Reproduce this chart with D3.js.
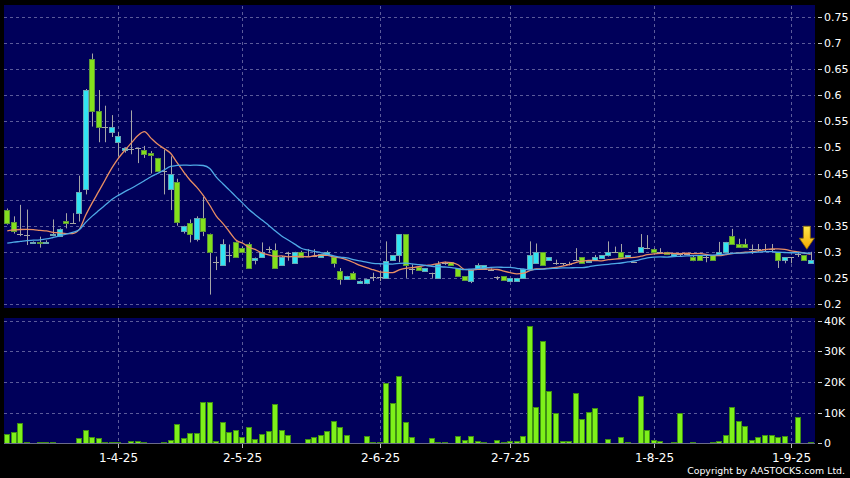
<!DOCTYPE html>
<html><head><meta charset="utf-8">
<script src="https://cdn.jsdelivr.net/npm/d3@7"></script>
<style>html,body{margin:0;padding:0;background:#000;}svg{display:block;}</style>
</head><body>
<svg id="chart" width="850" height="478"></svg>
<script>
// ---- data ----
const openP = [0.381,0.358,0.334,0.333,0.316,0.319,0.316,0.332,0.331,0.359,
0.356,0.374,0.42,0.67,0.57,0.54,0.53,0.51,0.495,0.497,
0.498,0.495,0.49,0.48,0.455,0.42,0.434,0.339,0.355,0.324,
0.365,0.334,0.28,0.275,0.294,0.318,0.308,0.315,0.284,0.29,
0.305,0.304,0.275,0.297,0.278,0.299,0.292,0.292,0.29,0.294,
0.291,0.264,0.248,0.259,0.24,0.24,0.252,0.252,0.25,0.285,
0.294,0.334,0.267,0.27,0.264,0.259,0.25,0.278,0.28,0.269,
0.253,0.245,0.267,0.267,0.266,0.252,0.253,0.245,0.245,0.25,
0.267,0.278,0.299,0.285,0.278,0.278,0.276,0.285,0.29,0.28,
0.285,0.289,0.293,0.30,0.299,0.29,0.28,0.299,0.308,0.305,
0.299,0.299,0.292,0.296,0.296,0.29,0.294,0.29,0.294,0.293,
0.299,0.331,0.315,0.315,0.305,0.305,0.305,0.305,0.299,0.285,
0.29,0.296,0.294,0.278];
const highP = [0.383,0.368,0.39,0.381,0.32,0.329,0.322,0.362,0.345,0.374,
0.374,0.446,0.612,0.68,0.61,0.58,0.562,0.53,0.50,0.571,
0.499,0.503,0.493,0.48,0.496,0.483,0.44,0.35,0.362,0.368,
0.405,0.335,0.291,0.324,0.314,0.32,0.31,0.318,0.289,0.318,
0.31,0.316,0.292,0.30,0.30,0.302,0.305,0.305,0.296,0.302,
0.291,0.269,0.254,0.262,0.245,0.248,0.26,0.26,0.32,0.294,
0.334,0.334,0.276,0.272,0.269,0.26,0.282,0.281,0.28,0.269,
0.253,0.266,0.278,0.274,0.268,0.253,0.253,0.249,0.25,0.267,
0.32,0.316,0.299,0.29,0.285,0.278,0.281,0.307,0.29,0.283,
0.294,0.293,0.32,0.31,0.315,0.294,0.28,0.334,0.332,0.307,
0.307,0.30,0.296,0.298,0.296,0.294,0.294,0.295,0.294,0.319,
0.319,0.344,0.325,0.325,0.314,0.315,0.315,0.315,0.299,0.29,
0.29,0.30,0.294,0.30];
const lowP = [0.352,0.335,0.33,0.313,0.315,0.308,0.315,0.33,0.33,0.345,
0.354,0.358,0.41,0.54,0.51,0.51,0.52,0.483,0.49,0.487,
0.47,0.48,0.45,0.455,0.41,0.38,0.35,0.335,0.318,0.32,
0.33,0.218,0.265,0.275,0.28,0.29,0.30,0.268,0.276,0.29,
0.298,0.268,0.275,0.283,0.278,0.291,0.29,0.29,0.29,0.294,
0.27,0.237,0.247,0.247,0.24,0.238,0.244,0.244,0.25,0.284,
0.28,0.25,0.257,0.264,0.264,0.25,0.25,0.275,0.275,0.253,
0.246,0.24,0.267,0.267,0.265,0.246,0.245,0.245,0.245,0.25,
0.267,0.278,0.275,0.285,0.275,0.274,0.274,0.282,0.278,0.28,
0.285,0.289,0.291,0.299,0.29,0.29,0.28,0.299,0.305,0.299,
0.297,0.296,0.292,0.292,0.296,0.282,0.285,0.28,0.285,0.293,
0.299,0.315,0.309,0.309,0.296,0.30,0.30,0.30,0.269,0.278,
0.278,0.29,0.285,0.278];
const closeP = [0.355,0.339,0.334,0.333,0.319,0.316,0.319,0.334,0.344,0.355,
0.356,0.414,0.61,0.57,0.54,0.54,0.54,0.522,0.498,0.497,
0.498,0.488,0.486,0.455,0.455,0.45,0.358,0.349,0.335,0.365,
0.339,0.30,0.28,0.315,0.294,0.291,0.30,0.269,0.289,0.30,
0.305,0.269,0.291,0.297,0.299,0.291,0.292,0.292,0.295,0.299,
0.278,0.248,0.253,0.248,0.244,0.248,0.252,0.252,0.283,0.294,
0.334,0.275,0.267,0.265,0.269,0.259,0.277,0.278,0.275,0.253,
0.246,0.266,0.274,0.274,0.266,0.252,0.246,0.249,0.25,0.267,
0.294,0.299,0.275,0.29,0.278,0.278,0.276,0.285,0.278,0.283,
0.29,0.293,0.299,0.30,0.29,0.294,0.28,0.309,0.308,0.299,
0.299,0.296,0.296,0.296,0.296,0.285,0.285,0.29,0.285,0.299,
0.319,0.315,0.309,0.309,0.305,0.305,0.305,0.305,0.285,0.29,
0.29,0.296,0.285,0.285];
const volume = [2900,3700,6500,500,0,300,300,300,0,0,
200,1600,4500,2100,1700,500,500,500,0,600,
600,500,0,0,300,1200,6400,1600,3400,3500,
13600,13500,800,6800,3600,4200,2200,5200,1300,2900,
4100,12700,4200,2600,0,200,1400,2000,2700,3900,
7200,5300,2800,200,0,2500,300,500,19800,13300,
22100,6800,2100,200,200,1700,300,300,0,2500,
1000,2400,900,300,0,1000,300,800,900,2400,
38400,12000,33400,17000,9800,900,700,16500,8000,10200,
11500,0,1300,100,2100,300,0,15500,4300,1000,
800,100,300,10000,0,400,0,200,300,800,
2700,11700,7300,5500,1100,2100,2800,2600,2100,2500,
100,8500,0,300];
// closes of the 19 sessions before the window (needed for the moving averages)
const priorCloses = [0.30,0.305,0.30,0.305,0.30,0.285,0.28,0.285,0.285,0.285,
0.32,0.325,0.33,0.325,0.33,0.33,0.36,0.355,0.37];
const maPeriods = [10, 20];
const priceTicks = [0.2,0.25,0.3,0.35,0.4,0.45,0.5,0.55,0.6,0.65,0.7,0.75];
const volumeTicks = [0,10000,20000,30000,40000];
const dateLabels = ["1-4-25","2-5-25","2-6-25","2-7-25","1-8-25","1-9-25"];
const dateIndex = [17,36,57,77,99,120];
const markerIndex = 122.4, markerPrice = 0.305;

// ---- layout ----
const W = 850, H = 478;
const L = 4, R = 815;
const pTop = 5, pBot = 308, vTop = 318, vBot = 444;
const n = closeP.length;
const svg = d3.select("#chart");
const font = "DejaVu Sans, Verdana, sans-serif";

svg.append("rect").attr("width", W).attr("height", H).attr("fill", "#000");

const xb = d3.scaleBand().domain(d3.range(n)).range([L, R - 1]).paddingInner(0.1);
const xl = d3.scaleLinear().domain([-0.5, n - 0.5]).range([L, R - 1]);
const yP = d3.scaleLinear().domain([0.2, 0.75]).range([304, 17]);
const yV = d3.scaleLinear().domain([0, 40000]).range([443.3, 320.7]);

const defs = svg.append("defs");
defs.append("clipPath").attr("id", "cp").append("rect").attr("x", L).attr("y", pTop).attr("width", R - L).attr("height", pBot - pTop);
defs.append("clipPath").attr("id", "cv").append("rect").attr("x", L).attr("y", vTop).attr("width", R - L).attr("height", vBot - vTop);
const grad = defs.append("linearGradient").attr("id", "ag").attr("x1", 0).attr("y1", 0).attr("x2", 0).attr("y2", 1);
grad.append("stop").attr("offset", "0").attr("stop-color", "#ffe84a");
grad.append("stop").attr("offset", "1").attr("stop-color", "#f5a800");

// panels
const panelFill = "#00005a";
svg.append("rect").attr("x", L).attr("y", pTop).attr("width", R - L).attr("height", pBot - pTop).attr("fill", panelFill);
svg.append("rect").attr("x", L).attr("y", vTop).attr("width", R - L).attr("height", vBot - vTop).attr("fill", panelFill);

const gridColor = "#5b5b9a";
const gp = svg.append("g").attr("clip-path", "url(#cp)");
const gv = svg.append("g").attr("clip-path", "url(#cv)");

// horizontal grid
gp.selectAll(".hg").data(priceTicks).join("line")
  .attr("x1", L).attr("x2", R).attr("y1", d => Math.round(yP(d)) + 0.5).attr("y2", d => Math.round(yP(d)) + 0.5)
  .attr("stroke", gridColor).attr("stroke-dasharray", "3,3");
gv.selectAll(".hg").data(volumeTicks.slice(1)).join("line")
  .attr("x1", L).attr("x2", R).attr("y1", d => Math.round(yV(d)) + 0.5).attr("y2", d => Math.round(yV(d)) + 0.5)
  .attr("stroke", gridColor).attr("stroke-dasharray", "3,3");
// vertical grid
[gp, gv].forEach(g => g.selectAll(".vg").data(dateIndex).join("line")
  .attr("x1", d => Math.round(xl(d)) + 0.5).attr("x2", d => Math.round(xl(d)) + 0.5)
  .attr("y1", 0).attr("y2", H)
  .attr("stroke", gridColor).attr("stroke-dasharray", "3,3"));

// candles
const upFill = "#31e4f2", upStroke = "#6aa6b4";
const dnFill = "#84e01c", dnStroke = "#5d9a36";
const wickColor = "#a6a6a6";
const bw = Math.round(xb.bandwidth());
const cx = i => Math.round(xl(i)) + 0.5;
const candles = gp.append("g");
d3.range(n).forEach(i => {
  const o = openP[i], c = closeP[i];
  candles.append("line").attr("x1", cx(i)).attr("x2", cx(i))
    .attr("y1", yP(highP[i])).attr("y2", yP(lowP[i])).attr("stroke", wickColor).attr("stroke-width", 1);
  const left = Math.round(xl(i) - bw / 2) + 0.5;
  if (o === c) {
    candles.append("line").attr("x1", left - 0.5).attr("x2", left + bw - 0.5)
      .attr("y1", Math.round(yP(c)) + 0.5).attr("y2", Math.round(yP(c)) + 0.5).attr("stroke", wickColor);
  } else {
    const up = c > o;
    const t = Math.round(yP(Math.max(o, c))), b = Math.round(yP(Math.min(o, c)));
    candles.append("rect").attr("x", left).attr("y", t + 0.5)
      .attr("width", bw - 1).attr("height", Math.max(1, b - t))
      .attr("fill", up ? upFill : dnFill).attr("stroke", up ? upStroke : dnStroke).attr("stroke-width", 1);
  }
});

// moving averages
const allCloses = priorCloses.concat(closeP);
const off = priorCloses.length;
const maColors = ["#e98e63", "#4fa9e6"];
maPeriods.forEach((p, k) => {
  const vals = d3.range(n).map(i => d3.mean(allCloses.slice(off + i - p + 1, off + i + 1)));
  gp.append("path").datum(vals)
    .attr("d", d3.line().x((d, i) => xl(i)).y(d => yP(d)).curve(d3.curveMonotoneX))
    .attr("fill", "none").attr("stroke", maColors[k]).attr("stroke-width", 1.3);
});

// marker arrow
const ax = xl(markerIndex), ay = yP(markerPrice);
svg.append("path")
  .attr("d", `M${ax},${ay} L${ax - 7.5},${ay - 11} L${ax - 3.5},${ay - 11} L${ax - 3.5},${ay - 23} L${ax + 3.5},${ay - 23} L${ax + 3.5},${ay - 11} L${ax + 7.5},${ay - 11} Z`)
  .attr("fill", "url(#ag)").attr("stroke", "#8a6a00").attr("stroke-width", 0.8);

// volume bars
gv.selectAll(".vb").data(volume).join("rect")
  .attr("x", (d, i) => Math.round(xl(i) - bw / 2) + 0.5)
  .attr("y", d => Math.round(yV(d)) + 0.5)
  .attr("width", bw - 1)
  .attr("height", d => Math.max(0, Math.round(yV(0)) - Math.round(yV(d))))
  .attr("fill", "#7ef01a").attr("stroke", d => d > 0 ? "#3f8f14" : "none").attr("stroke-width", 1);
gv.append("line").attr("x1", L).attr("x2", R).attr("y1", Math.round(yV(0)) + 0.5).attr("y2", Math.round(yV(0)) + 0.5)
  .attr("stroke", "#6a6a8a");

// right axes
const axG = svg.append("g").attr("font-family", font).attr("font-size", 11).attr("fill", "#fff");
const fmtP = d => String(+d.toFixed(2));
priceTicks.forEach(t => {
  axG.append("line").attr("x1", 818).attr("x2", 822).attr("y1", Math.round(yP(t)) + 0.5).attr("y2", Math.round(yP(t)) + 0.5).attr("stroke", "#ccc");
  axG.append("text").attr("x", 824).attr("y", yP(t) + 4).text(fmtP(t));
});
volumeTicks.forEach(t => {
  axG.append("line").attr("x1", 818).attr("x2", 822).attr("y1", Math.round(yV(t)) + 0.5).attr("y2", Math.round(yV(t)) + 0.5).attr("stroke", "#ccc");
  axG.append("text").attr("x", 824).attr("y", yV(t) + 4).text(t === 0 ? "0" : (t / 1000) + "K");
});

// date axis
const dG = svg.append("g").attr("font-family", font).attr("font-size", 12).attr("fill", "#fff");
dateIndex.forEach((d, k) => {
  const x = Math.round(xl(d)) + 0.5;
  dG.append("line").attr("x1", x).attr("x2", x).attr("y1", vBot).attr("y2", vBot + 4).attr("stroke", "#bbb");
  dG.append("text").attr("x", x).attr("y", 462).attr("text-anchor", "middle").text(dateLabels[k]);
});

svg.append("text").attr("x", 845).attr("y", 474).attr("text-anchor", "end")
  .attr("font-family", font).attr("font-size", 9.4).attr("fill", "#fff")
  .text("Copyright by AASTOCKS.com Ltd.");
</script>
</body></html>
